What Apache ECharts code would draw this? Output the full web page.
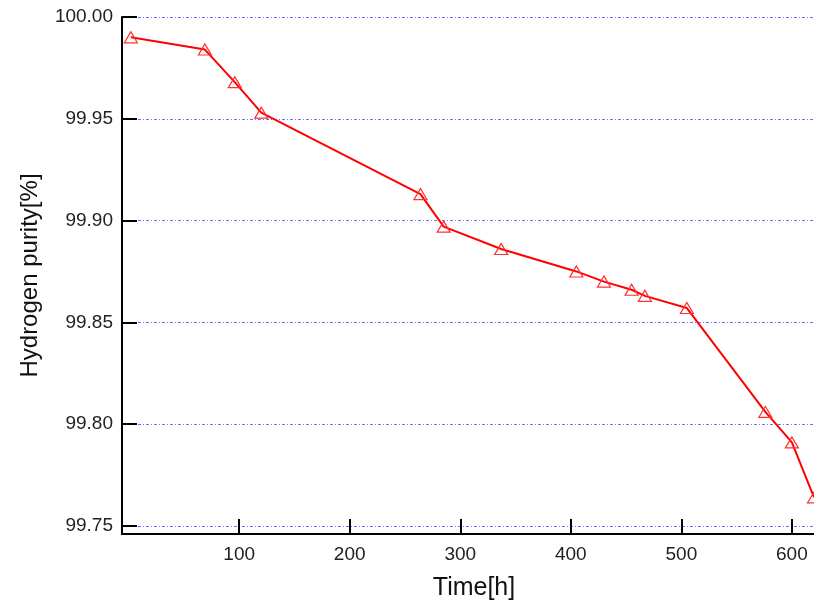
<!DOCTYPE html>
<html>
<head>
<meta charset="utf-8">
<title>Hydrogen purity</title>
<script src="https://cdn.jsdelivr.net/npm/echarts@6/dist/echarts.min.js"></script>
<style>
    html, body { margin: 0; padding: 0; background: #fff; }
    #chartDiv { width: 814px; height: 606px; }
</style>
</head>
<body>
<div id="chartDiv"></div>
<script>
    // 读图得到的数据
    var timeHours = [2, 69, 96, 120, 264, 285, 337, 405, 430, 455, 467, 505, 576, 600, 620];
    var purity = [99.990, 99.984, 99.968, 99.953, 99.913, 99.897, 99.886, 99.875, 99.870, 99.866, 99.863, 99.857, 99.806, 99.791, 99.764];
    var xTicks = [100, 200, 300, 400, 500, 600];
    var yTicks = [99.75, 99.80, 99.85, 99.90, 99.95, 100.00];

    var points = timeHours.map(function (t, i) { return [t, purity[i]]; });
    var font = 'Liberation Sans, Arial, sans-serif';

    var chart = echarts.init(document.getElementById('chartDiv'));
    chart.setOption({
        animation: false,
        grid: { left: 122, right: 0, top: 17, bottom: 71, containLabel: false },
        xAxis: {
            type: 'value',
            min: -6,
            max: 620,
            name: 'Time[h]',
            nameLocation: 'middle',
            nameGap: 42,
            nameTextStyle: { fontFamily: font, fontSize: 25, color: '#111', padding: [0, 0, 0, 12] },
            axisLine: { onZero: false, lineStyle: { color: '#000', width: 2 } },
            axisTick: { inside: true, length: 15, customValues: xTicks, lineStyle: { color: '#000', width: 2 } },
            axisLabel: { customValues: xTicks, margin: 11, fontFamily: font, fontSize: 19, color: '#222' },
            splitLine: { show: false }
        },
        yAxis: {
            type: 'value',
            min: 99.746,
            max: 100.0,
            name: 'Hydrogen purity[%]',
            nameLocation: 'middle',
            nameGap: 80,
            nameTextStyle: { fontFamily: font, fontSize: 24, color: '#111' },
            axisLine: { onZero: false, lineStyle: { color: '#000', width: 2 } },
            axisTick: { inside: true, length: 15, customValues: yTicks, lineStyle: { color: '#000', width: 2 } },
            axisLabel: {
                customValues: yTicks, margin: 9, fontFamily: font, fontSize: 19, color: '#222',
                formatter: function (v) { return v.toFixed(2); }
            },
            splitLine: {
                show: true,
                lineStyle: { color: '#6f6fff', width: 1, type: [3, 2, 1, 2] }
            }
        },
        series: [{
            type: 'line',
            data: points,
            clip: false,
            symbol: 'triangle',
            symbolSize: [13, 11],
            showAllSymbol: true,
            z: 3,
            itemStyle: { color: 'rgba(255,255,255,0)', borderColor: '#ff3030', borderWidth: 1.2 },
            lineStyle: { color: '#ff0000', width: 2 }
        }]
    });
</script>
</body>
</html>
